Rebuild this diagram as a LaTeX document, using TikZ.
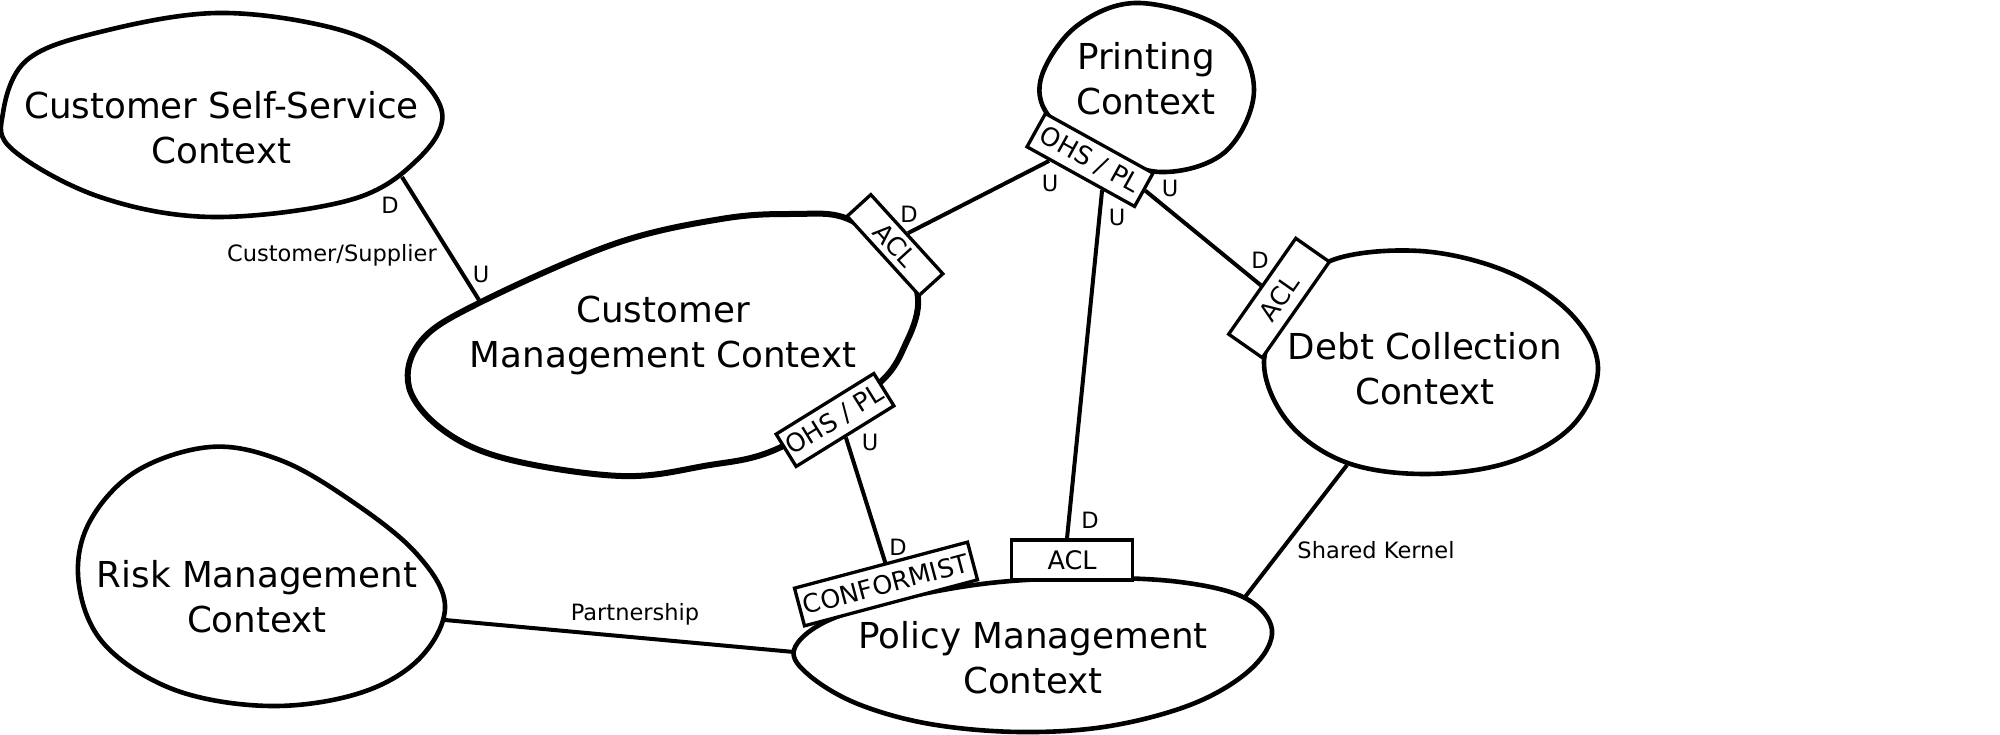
\documentclass[tikz,border=0pt]{standalone}
\usepackage{fontspec}
\setmainfont{DejaVu Sans}
\usetikzlibrary{calc}
\tikzset{
    ContextText/.style={font=\fontsize{35.7}{45}\selectfont, align=center, inner sep=0pt},
    PatternBox/.style={draw, fill=white, line width=3.3pt, inner sep=0pt, font=\fontsize{25.5}{30}\selectfont},
    SideLabel/.style={font=\fontsize{22.5}{27}\selectfont, inner sep=0pt},
    BlobLine/.style={line width=4.6pt, line join=round},
    LinkLine/.style={line width=4pt}
}

\begin{document}
\begin{tikzpicture}[x=1pt, y=-1pt]
    \useasboundingbox (0,0) rectangle (2000,735);

    % --- context outlines ---
    \draw[BlobLine] plot[smooth cycle, tension=0.6] coordinates {(3,113) (27,60) (100,32) (217,13) (333,28) (400,60) (442,112) (417,160) (350,200) (213,217) (100,197) (13,150)};
    \draw[BlobLine, line width=6pt] plot[smooth cycle, tension=0.6] coordinates {(409,387) (421,341) (479,303) (614,244) (721,219) (793,214) (848,219) (900,259) (918,298) (907,341) (875,387) (779,448) (704,466) (621,476) (507,459) (443,430)};
    \draw[BlobLine] plot[smooth cycle, tension=0.6] coordinates {(1140,3) (1078,25) (1042,75) (1048,115) (1095,148) (1160,172) (1225,152) (1254,90) (1225,30)};
    \draw[BlobLine] plot[smooth cycle, tension=0.6] coordinates {(1330,261) (1420,251) (1508,272) (1572,315) (1598,368) (1573,425) (1510,462) (1425,474) (1345,462) (1288,422) (1264,362) (1290,305)};
    \draw[BlobLine] plot[smooth cycle, tension=0.6] coordinates {(210,447) (135,472) (88,525) (79,585) (105,645) (175,690) (270,706) (360,693) (420,658) (445,605) (415,552) (350,500) (280,460)};
    \draw[BlobLine] plot[smooth cycle, tension=0.6] coordinates {(794,650) (825,622) (895,600) (990,583) (1090,578) (1180,582) (1245,598) (1272,630) (1252,668) (1195,703) (1110,726) (1020,732) (930,724) (858,704) (810,676)};

    % --- context names ---
    \node[ContextText] (selfService) at (221.5,127.5) {Customer Self-Service\\Context};
    \node[ContextText] (custMgmt) at (663,335) {Customer\\Management Context};
    \node[ContextText] (printing) at (1146,78.5) {Printing\\Context};
    \node[ContextText] (debtColl) at (1425,368.5) {Debt Collection\\Context};
    \node[ContextText] (riskMgmt) at (257,596.5) {Risk Management\\Context};
    \node[ContextText] (policyMgmt) at (1033,657.5) {Policy Management\\Context};

    % --- free ends on the outlines ---
    \coordinate (ssLink) at (402,177);
    \coordinate (cmLink) at (479,300);
    \coordinate (riskLink) at (445,620);
    \coordinate (pmLinkW) at (794,652);
    \coordinate (debtLink) at (1347,465);
    \coordinate (pmLinkE) at (1245,597);

    % --- pattern boxes ---
    \node[PatternBox, rotate=-47.7, minimum width=107pt, minimum height=32pt] (cmAcl) at (895,245) {ACL};
    \node[PatternBox, rotate=-29, minimum width=123pt, minimum height=38pt] (printOhs) at (1090,160) {OHS / PL};
    \node[PatternBox, rotate=55, minimum width=117pt, minimum height=41pt] (debtAcl) at (1279,298) {ACL};
    \node[PatternBox, rotate=31.8, minimum width=115pt, minimum height=38pt] (cmOhs) at (835,420) {OHS / PL};
    \node[PatternBox, rotate=14.9, minimum width=179pt, minimum height=39pt] (pmConf) at (886,584) {CONFORMIST};
    \node[PatternBox, minimum width=121pt, minimum height=40pt] (pmAcl) at (1072,560) {ACL};

    % --- relations ---
    \draw[LinkLine] (ssLink) -- (cmLink);
    \draw[LinkLine] (cmAcl.north) -- ($(printOhs.south west)!0.22!(printOhs.south east)$);
    \draw[LinkLine] ($(printOhs.south west)!0.7!(printOhs.south east)$) -- ([xshift=-5pt]pmAcl.north);
    \draw[LinkLine] (printOhs.east) -- (debtAcl.north);
    \draw[LinkLine] (cmOhs.south) -- ([xshift=5pt]pmConf.north);
    \draw[LinkLine] (riskLink) -- (pmLinkW);
    \draw[LinkLine] (debtLink) -- (pmLinkE);

    % --- up/down markers ---
    \node[SideLabel] (ssD) at (390,205) {D};
    \node[SideLabel] (cmU) at (481,274) {U};
    \node[SideLabel] (cmAclD) at (909,214) {D};
    \node[SideLabel] (printU1) at (1050,183) {U};
    \node[SideLabel] (printU2) at (1117,217) {U};
    \node[SideLabel] (printU3) at (1170,188) {U};
    \node[SideLabel] (debtD) at (1260,260) {D};
    \node[SideLabel] (cmOhsU) at (870,442) {U};
    \node[SideLabel] (confD) at (898,547) {D};
    \node[SideLabel] (pmAclD) at (1090,520) {D};

    \node[SideLabel] (custSup) at (332,255) {Customer/Supplier};
    \node[SideLabel] (sharedK) at (1376,550) {Shared Kernel};
    \node[SideLabel] (partner) at (635,614) {Partnership};
\end{tikzpicture}
\end{document}
